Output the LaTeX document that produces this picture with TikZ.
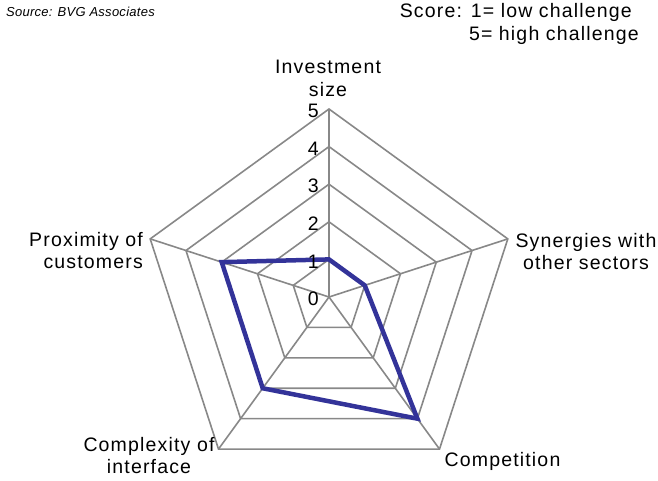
\documentclass[tikz,border=0pt]{standalone}
\usepackage{fontspec}
\setmainfont{Liberation Sans}
\newfontfamily\lblfont[LetterSpace=6]{Liberation Sans}
\newfontfamily\srcfont[LetterSpace=2]{Liberation Sans}
\definecolor{gridgray}{HTML}{888888}
\definecolor{serblue}{HTML}{333399}
\begin{document}
\begin{tikzpicture}[x=1pt,y=1pt,
  gridline/.style={draw=gridgray,line width=1.6pt},
  series/.style={draw=serblue,line width=4.5pt,line join=miter},
  axlabel/.style={font=\lblfont\fontsize{19.5}{22.5}\selectfont,inner sep=0pt,align=center},
  numlabel/.style={font=\lblfont\fontsize{19.5}{22.5}\selectfont,inner sep=0pt,anchor=east},
  note/.style={font=\lblfont\fontsize{19.5}{23}\selectfont,inner sep=0pt,align=right},
  srclabel/.style={font=\srcfont\itshape\fontsize{13}{16}\selectfont,inner sep=0pt}]
\useasboundingbox (0,0) rectangle (658,480);
\def\u{37.6}
\coordinate (C) at (329,183);
% grid pentagons
\foreach \r in {1,...,5}{
  \draw[gridline] ([shift={(90:{\r*\u})}]C) -- ([shift={(18:{\r*\u})}]C) -- ([shift={(-54:{\r*\u})}]C) -- ([shift={(-126:{\r*\u})}]C) -- ([shift={(162:{\r*\u})}]C) -- cycle;
}
% axes
\foreach \a/\n in {90/a,18/b,-54/c,-126/d,162/e}{
  \coordinate (v\n) at ([shift={(\a:{5*\u})}]C);
  \draw[gridline] (C) -- (v\n);
}
% data
\coordinate (d1) at ([shift={(90:{1*\u})}]C);
\coordinate (d2) at ([shift={(18:{1*\u})}]C);
\coordinate (d3) at ([shift={(-54:{4*\u})}]C);
\coordinate (d4) at ([shift={(-126:{3*\u})}]C);
\coordinate (d5) at ([shift={(162:{3*\u})}]C);
\draw[series] (d1) -- (d2) -- (d3) -- (d4) -- (d5) -- cycle;
% scale numbers
\foreach \k in {0,...,5}{
  \node[numlabel] (n\k) at (319,{183+\k*\u-2}) {\k};
}
% axis labels
\node[axlabel,anchor=north] (invest) at (328,420) {Investment\\size};
\node[axlabel,anchor=north] (syn) at (586,247) {Synergies with\\other sectors};
\node[axlabel,anchor=north] (comp) at (502.5,28) {Competition};
\node[axlabel,anchor=north] (cplx) at (149,43) {Complexity of\\interface};
\node[axlabel,anchor=north east,align=right] (prox) at (143,248) {Proximity of\\customers};
% notes
\node[srclabel,anchor=north west] (src) at (6,473) {Source: BVG Associates};
\node[note,anchor=north east] (score) at (632,477) {Score: 1= low challenge\\5= high challenge\hspace*{-7pt}};
\end{tikzpicture}
\end{document}
